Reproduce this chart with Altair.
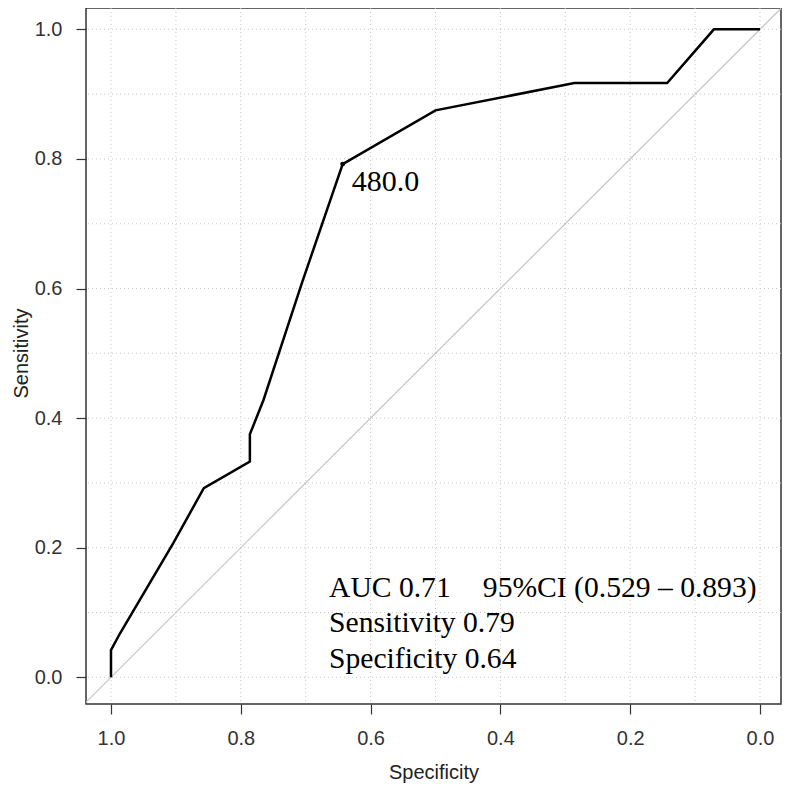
import altair as alt
import pandas as pd

# ROC curve values
specificity = [1.0, 1.0, 0.986, 0.904, 0.857, 0.786, 0.786, 0.765, 0.706, 0.643, 0.5, 0.286, 0.143, 0.071, 0.0]
sensitivity = [0.0, 0.042, 0.068, 0.207, 0.292, 0.333, 0.375, 0.428, 0.608, 0.792, 0.875, 0.917, 0.917, 1.0, 1.0]

# chance diagonal (extends beyond the frame, clipped)
diag_spec = [1.2, -0.2]
diag_sens = [-0.2, 1.2]

tick_values = [0.0, 0.2, 0.4, 0.6, 0.8, 1.0]
grid_values = [0.0, 0.1, 0.2, 0.3, 0.4, 0.5, 0.6, 0.7, 0.8, 0.9, 1.0]

best_spec = [0.643]
best_sens = [0.792]
cutoff_label = ["480.0"]

auc_label = "AUC 0.71"
ci_label = "95%CI (0.529 \u2013 0.893)"
sens_label = "Sensitivity 0.79"
spec_label = "Specificity 0.64"

roc_df = pd.DataFrame({"spec": specificity, "sens": sensitivity, "order": list(range(len(specificity)))})
diag_df = pd.DataFrame({"spec": diag_spec, "sens": diag_sens})
grid_df = pd.DataFrame({"g": grid_values})
best_df = pd.DataFrame({"spec": best_spec, "sens": best_sens, "label": cutoff_label})
ann_df = pd.DataFrame({
    "spec": [0.664, 0.427, 0.664, 0.664],
    "sens": [0.1244, 0.1244, 0.0704, 0.0139],
    "label": [auc_label, ci_label, sens_label, spec_label],
})

xscale = alt.Scale(domain=[-0.0324, 1.0385], reverse=True, nice=False, zero=False)
yscale = alt.Scale(domain=[-0.0412, 1.0329], nice=False, zero=False)

SANS = "Liberation Sans"
SERIF = "Liberation Serif"

xaxis = alt.Axis(values=tick_values, format=".1f", title="Specificity", grid=False, domain=False,
                 tickSize=10, tickColor="#333333", tickWidth=1.2,
                 labelFontSize=20, labelFont=SANS, labelColor="#333333", labelPadding=14, labelFlush=False,
                 titleFontSize=20, titleFont=SANS, titleFontWeight="normal", titleColor="#222222", titlePadding=14)
yaxis = alt.Axis(values=tick_values, format=".1f", title="Sensitivity", grid=False, domain=False,
                 tickSize=10, tickColor="#333333", tickWidth=1.2,
                 labelFontSize=20, labelFont=SANS, labelColor="#333333", labelPadding=14, labelFlush=False,
                 titleFontSize=20, titleFont=SANS, titleFontWeight="normal", titleColor="#222222",
                 titleX=-55, titleY=345)


def X(field):
    return alt.X(field, type="quantitative", scale=xscale, axis=xaxis)


def Y(field):
    return alt.Y(field, type="quantitative", scale=yscale, axis=yaxis)


vgrid = alt.Chart(grid_df).mark_rule(color="#c8c8c8", strokeDash=[1, 3], strokeWidth=1).encode(x=X("g"))
hgrid = alt.Chart(grid_df).mark_rule(color="#c8c8c8", strokeDash=[1, 3], strokeWidth=1).encode(y=Y("g"))

diag = alt.Chart(diag_df).mark_line(color="#c4c4c4", strokeWidth=1.2, clip=True).encode(x=X("spec"), y=Y("sens"))

roc = alt.Chart(roc_df).mark_line(color="black", strokeWidth=2.5).encode(
    x=X("spec"), y=Y("sens"), order="order:Q")

pt = alt.Chart(best_df).mark_circle(color="black", size=24, opacity=1).encode(x=X("spec"), y=Y("sens"))
pt_label = alt.Chart(best_df).mark_text(font=SERIF, fontSize=30, align="left", baseline="alphabetic",
                                        dx=9, dy=27, color="black").encode(x=X("spec"), y=Y("sens"), text="label")

ann = alt.Chart(ann_df).mark_text(font=SERIF, fontSize=29.6, align="left", baseline="alphabetic",
                                  color="black").encode(x=X("spec"), y=Y("sens"), text="label")

chart = alt.layer(vgrid, hgrid, diag, roc, pt, pt_label, ann).properties(
    width=695, height=696,
    autosize=alt.AutoSizeParams(type="none"),
    padding={"left": 78, "top": 0, "right": 2, "bottom": 80},
    background="white",
).configure_view(stroke="#333333", strokeWidth=1.5)

chart.save("out.html", embed_options={"renderer": "svg", "actions": False})
